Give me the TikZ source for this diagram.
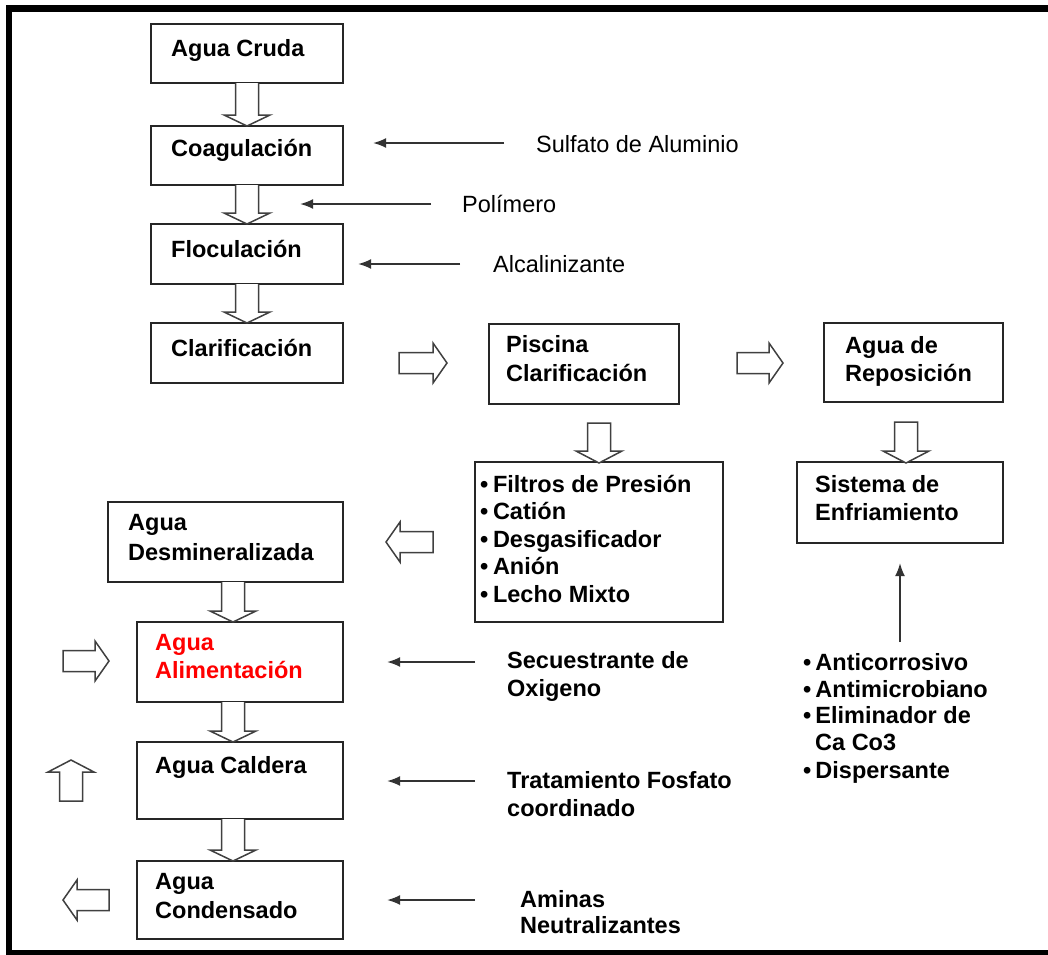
\documentclass[tikz,border=0pt]{standalone}
\usepackage{fontspec}
\setmainfont{Liberation Sans}
\usetikzlibrary{arrows.meta,calc}
\newcommand\hblk[3]{%
  \pgfmathsetmacro\hbx{#2+14*sign(#1-#2)}%
  \draw[blk] (#1,#3-10.5) -- (\hbx,#3-10.5) -- (\hbx,#3-20) -- (#2,#3) -- (\hbx,#3+20) -- (\hbx,#3+10.5) -- (#1,#3+10.5) -- cycle;}
\newcommand\vblk[3]{%
  \pgfmathsetmacro\hby{#3+12*sign(#2-#3)}%
  \draw[blk] (#1-11.5,#2) -- (#1-11.5,\hby) -- (#1-23,\hby) -- (#1,#3) -- (#1+23,\hby) -- (#1+11.5,\hby) -- (#1+11.5,#2) -- cycle;}
\newcommand\vconn[2]{%
  \draw[blk] let \p1=#1, \p2=#2 in (\x2-11.5pt,\y1) -- (\x2-11.5pt,\y2+11pt) -- (\x2-23pt,\y2+11pt) -- (\x2,\y2) -- (\x2+23pt,\y2+11pt) -- (\x2+11.5pt,\y2+11pt) -- (\x2+11.5pt,\y1);}
\begin{document}
\begin{tikzpicture}[x=1pt,y=-1pt,
  box/.style={draw=black!85, line width=1.8pt, inner sep=0pt, outer sep=0pt},
  lbl/.style={anchor=base west, inner sep=0pt, font=\bfseries\fontsize{23.5}{28}\selectfont},
  rlbl/.style={anchor=base west, inner sep=0pt, font=\fontsize{23.5}{28}\selectfont},
  blk/.style={draw=black!75, line width=1.5pt, fill=white, line join=miter},
  thinarr/.style={draw=black!80, line width=2pt, -{Latex[length=13pt,width=10pt]}}]
\useasboundingbox (0,0) rectangle (1048,954);
\clip (0,0) rectangle (1048,954);
\fill[white] (0,0) rectangle (1048,954);
% frame
\draw[line width=6.5pt] (9,8.5) rectangle (1070,953);

% boxes
\node[box, minimum width=192pt, minimum height=59pt] (cruda) at (247,53.5) {};
\node[box, minimum width=192pt, minimum height=59pt] (coag) at (247,155.5) {};
\node[box, minimum width=192pt, minimum height=60pt] (floc) at (247,254) {};
\node[box, minimum width=192pt, minimum height=60pt] (clar) at (247,353) {};
\node[box, minimum width=190pt, minimum height=80pt] (pisc) at (584,364) {};
\node[box, minimum width=179pt, minimum height=79pt] (repo) at (913.5,362.5) {};
\node[box, minimum width=248pt, minimum height=160pt] (filt) at (599,542) {};
\node[box, minimum width=206pt, minimum height=81pt] (enfr) at (900,502.5) {};
\node[box, minimum width=235pt, minimum height=80pt] (desm) at (225.5,542) {};
\node[box, minimum width=206pt, minimum height=80pt] (alim) at (240,662) {};
\node[box, minimum width=206pt, minimum height=77pt] (cald) at (240,780.5) {};
\node[box, minimum width=206pt, minimum height=78pt] (cond) at (240,900) {};

% box texts
\node[lbl] (t-cruda) at (171,56) {Agua Cruda};
\node[lbl] (t-coag) at (171,156) {Coagulación};
\node[lbl] (t-floc) at (171,257) {Floculación};
\node[lbl] (t-clar) at (171,356) {Clarificación};
\node[lbl] (t-pisc1) at (506,352) {Piscina};
\node[lbl] (t-pisc2) at (506,381) {Clarificación};
\node[lbl] (t-repo1) at (845,353) {Agua de};
\node[lbl] (t-repo2) at (845,381) {Reposición};
\node[lbl] (t-enfr1) at (815,492) {Sistema de};
\node[lbl] (t-enfr2) at (815,520) {Enfriamiento};
\node[lbl] (t-desm1) at (128,530) {Agua};
\node[lbl] (t-desm2) at (128,560) {Desmineralizada};
\node[lbl, text=red] (t-alim1) at (155,650) {Agua};
\node[lbl, text=red] (t-alim2) at (155,678) {Alimentación};
\node[lbl] (t-cald) at (155,773) {Agua Caldera};
\node[lbl] (t-cond1) at (155,889) {Agua};
\node[lbl] (t-cond2) at (155,918) {Condensado};

\node[lbl] (f1) at (480,492) {•\hspace{4.6pt}Filtros de Presión};
\node[lbl] (f2) at (480,519) {•\hspace{4.6pt}Catión};
\node[lbl] (f3) at (480,547) {•\hspace{4.6pt}Desgasificador};
\node[lbl] (f4) at (480,574) {•\hspace{4.6pt}Anión};
\node[lbl] (f5) at (480,602) {•\hspace{4.6pt}Lecho Mixto};

% side labels
\node[rlbl] (t-sulf) at (536,152) {Sulfato de Aluminio};
\node[rlbl] (t-poli) at (462,212) {Polímero};
\node[rlbl] (t-alca) at (493,272) {Alcalinizante};
\node[lbl] (t-secu1) at (507,668) {Secuestrante de};
\node[lbl] (t-secu2) at (507,696) {Oxigeno};
\node[lbl] (t-trat1) at (507,788) {Tratamiento Fosfato};
\node[lbl] (t-trat2) at (507,816) {coordinado};
\node[lbl] (t-amin1) at (520,907) {Aminas};
\node[lbl] (t-amin2) at (520,933) {Neutralizantes};

\node[lbl] (a1) at (803,670) {•\hspace{4pt}Anticorrosivo};
\node[lbl] (a2) at (803,697) {•\hspace{4pt}Antimicrobiano};
\node[lbl] (a3) at (803,723) {•\hspace{4pt}Eliminador de};
\node[lbl] (a4) at (815,750) {Ca Co3};
\node[lbl] (a5) at (803,778) {•\hspace{4pt}Dispersante};

% block connectors
\vconn{(cruda.south)}{(coag.north)}
\vconn{(coag.south)}{(floc.north)}
\vconn{(floc.south)}{(clar.north)}
\vconn{(desm.south)}{([xshift=-7pt]alim.north)}
\vconn{(alim.south)}{([xshift=-7pt]cald.north)}
\vconn{(cald.south)}{([xshift=-7pt]cond.north)}
\vblk{599}{423}{463}
\vblk{906}{422}{463}
\hblk{399}{447}{363}
\hblk{737}{783}{363}
\hblk{433}{386}{542}
\hblk{63}{109}{661}
\hblk{109}{63}{900}
\vblk{71}{801}{760}

% thin arrows
\coordinate (s-sulf) at (504,143);
\coordinate (s-poli) at (431,204);
\coordinate (s-alca) at (460,264);
\coordinate (s-secu) at (475,662);
\coordinate (s-trat) at (475,781);
\coordinate (s-amin) at (475,900);
\coordinate (s-enfr) at (900,642);
\draw[thinarr] (s-sulf) -- (373,143);
\draw[thinarr] (s-poli) -- (300,204);
\draw[thinarr] (s-alca) -- (358,264);
\draw[thinarr] (s-secu) -- (387,662);
\draw[thinarr] (s-trat) -- (387,781);
\draw[thinarr] (s-amin) -- (387,900);
\draw[thinarr] (s-enfr) -- (900,563);
\end{tikzpicture}
\end{document}
